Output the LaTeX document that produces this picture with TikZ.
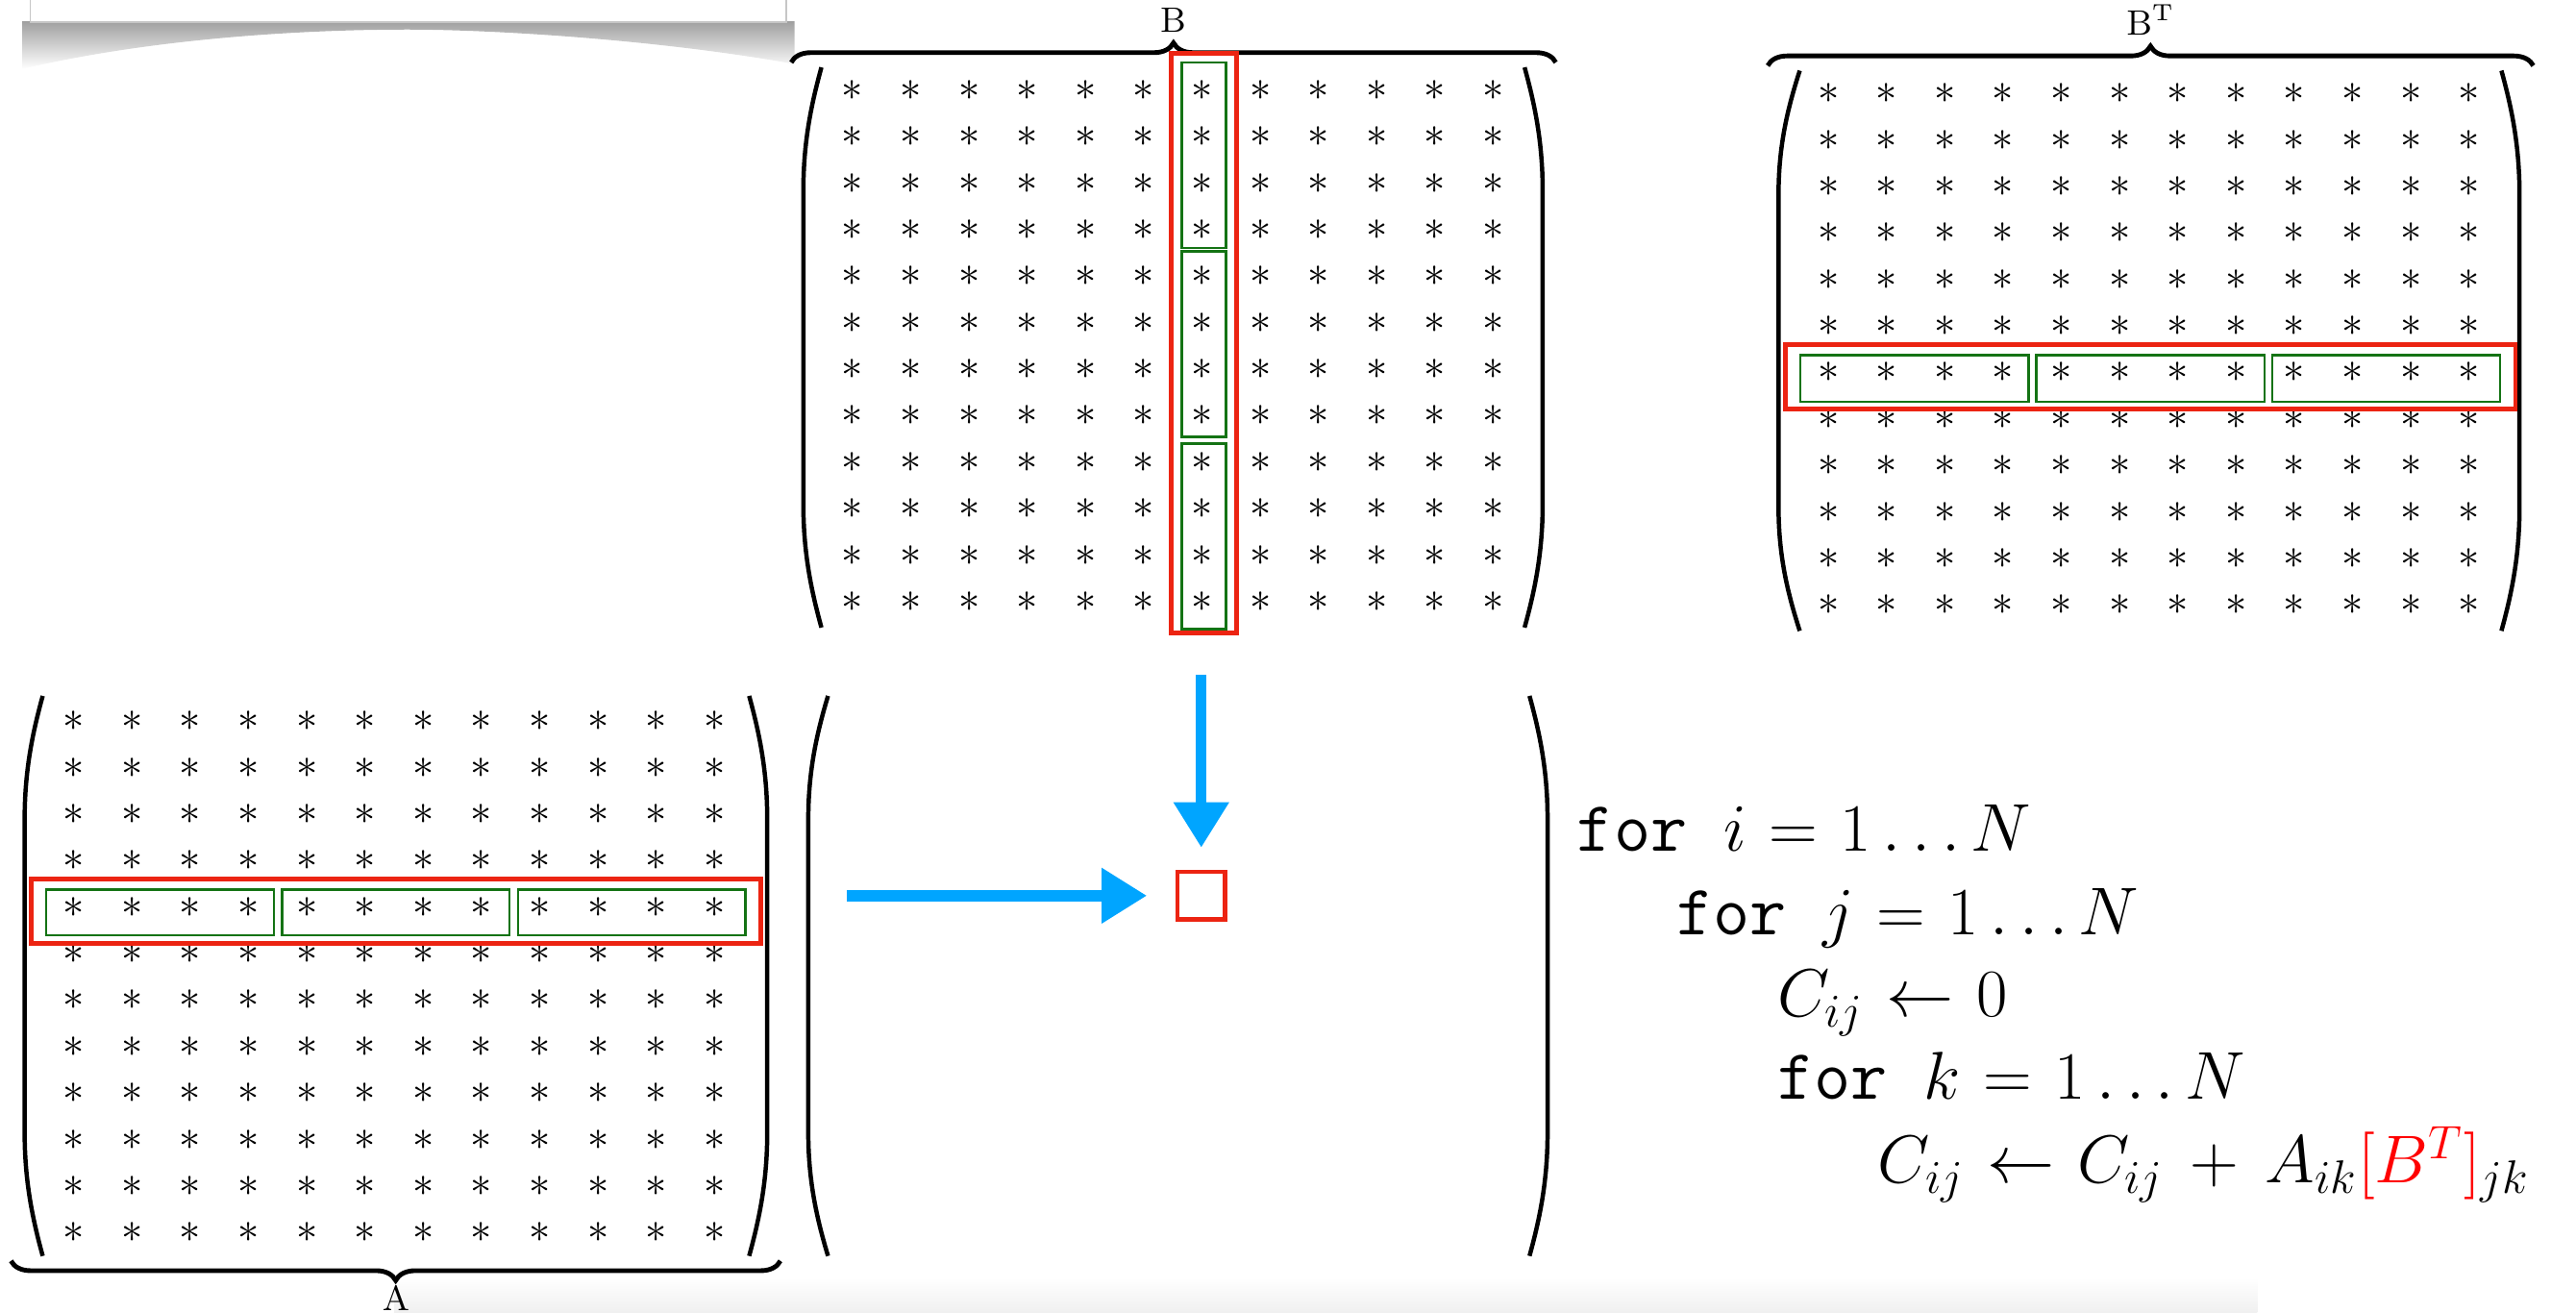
\documentclass[tikz,border=0pt]{standalone}
\usepackage{amsmath,amssymb}
\usepackage{tikz}
\usetikzlibrary{arrows.meta,positioning,decorations.pathreplacing,calc}

\definecolor{hlred}{RGB}{236,36,18}
\definecolor{hlgreen}{RGB}{20,115,20}
\definecolor{flowblue}{RGB}{0,165,255}
\def\pxu{0.42pt}
\newcommand\algsize{\fontsize{18.2}{21}\selectfont\thickmuskip=6mu\relax\medmuskip=7mu\relax}

\begin{document}
\begin{tikzpicture}[
    x=0.42pt, y=-0.42pt,
    star/.style={inner sep=0pt, font=\fontsize{10.5}{12}\selectfont},
    redbox/.style={draw=hlred, line width=1.2pt, inner sep=0pt},
    greenbox/.style={draw=hlgreen, line width=0.6pt, inner sep=0pt},
    paren/.style={line width=1.1pt},
    brace/.style={decorate, decoration={brace, amplitude=5pt}, line width=1.2pt},
    lbl/.style={font=\small, inner sep=0pt, anchor=base},
    alg/.style={anchor=base west, inner sep=0pt, font=\algsize},
    flow/.style={draw=flowblue, line width=2.8pt, -{Triangle[length=11.6pt,width=13.5pt]}}
]
\useasboundingbox (0,0) rectangle (1568,799);

% page shadows
\shade[top color=white, bottom color=gray!12] (240,778) rectangle (1374,799);
\shade[top color=gray!75, bottom color=white] (13.5,13) -- (483.7,13) -- (483.7,39)
    .. controls (400,24) and (300,18) .. (248,18) .. controls (180,18) and (90,24) .. (13.5,42) -- cycle;
\draw[gray!45, fill=white] (18.5,-10) rectangle (478.6,13.3);

% the three matrices of stars
\foreach \r in {0,...,11}
  \foreach \c in {0,...,11} {
    \node[star] (a-\r-\c) at ({45+35.45*\c},{439+28.3*\r}) {$*$};
    \node[star] (b-\r-\c) at ({519+35.45*\c},{55+28.3*\r}) {$*$};
    \node[star] (bt-\r-\c) at ({1113+35.45*\c},{57+28.3*\r}) {$*$};
  }

% parentheses
\foreach \xa/\xb/\ya/\yb in {26/15/423.6/764.5, 456/467/423.6/764.5, 504/492/423.6/764.5, 931/942/423.6/764.5,
                             500/489/41/382, 928/939/41/382, 1095.5/1082.6/43/384, 1522.6/1533.6/43/384}
  \draw[paren] (\xa,\ya) .. controls ({\xb+0.45*(\xa-\xb)},{\ya+22}) and (\xb,{\ya+45}) .. (\xb,{\ya+75})
     -- (\xb,{\yb-75}) .. controls (\xb,{\yb-45}) and ({\xb+0.45*(\xa-\xb)},{\yb-22}) .. (\xa,\yb);

% braces and names
\draw[brace] (481.6,38) -- (947,38);
\draw[brace] (1076,40) -- (1542,40);
\draw[brace] (475,767.5) -- (6.7,767.5);
\node[lbl] (blbl) at (714,19.5) {$\mathrm{B}$};
\node[lbl] (btlbl) at (1309,21.5) {$\mathrm{B}^{\mathrm{T}}$};
\node[lbl] (albl) at (241,797.5) {$\mathrm{A}$};

% highlighted row of A
\node[redbox, minimum width=444*\pxu, minimum height=39*\pxu] (arow) at (241,554.5) {};
\foreach \gx [count=\i] in {97.4,241,384.6}
  \node[greenbox, minimum width=138.4*\pxu, minimum height=28*\pxu] (ag\i) at (\gx,555.4) {};

% highlighted column of B
\node[redbox, minimum width=40.1*\pxu, minimum height=352.9*\pxu] (bcol) at (732.8,208.7) {};
\foreach \gy [count=\i] in {94.5,209.5,326.5}
  \node[greenbox, minimum width=26.9*\pxu, minimum height=113*\pxu] (bg\i) at (732.85,\gy) {};

% highlighted row of B^T
\node[redbox, minimum width=444.2*\pxu, minimum height=39.4*\pxu] (btrow) at (1309,229.5) {};
\foreach \gx [count=\i] in {1165.35,1308.95,1452.4}
  \node[greenbox, minimum width=138.8*\pxu, minimum height=28.3*\pxu] (btg\i) at (\gx,230.3) {};

% result entry and flow
\node[redbox, minimum width=29*\pxu, minimum height=29*\pxu] (cell) at (731.2,545.2) {};
\coordinate (dstart) at (731.2,411);
\coordinate (rstart) at (515.6,545.2);
\draw[flow, shorten >=5.6pt] (dstart) -- (cell);
\draw[flow, shorten >=7.2pt] (rstart) -- (cell);

% loop nest
\node[alg] (loopi) at (959.6,518) {\texttt{for~}$i=1\ldots N$};
\node[alg] (loopj) at (1020,569) {\texttt{for~}$j=1\ldots N$};
\node[alg] (init) at (1081.4,619) {$C_{ij}\leftarrow 0$};
\node[alg] (loopk) at (1081.4,669) {\texttt{for~}$k=1\ldots N$};
\node[alg] (update) at (1142.6,720) {$C_{ij}\leftarrow C_{ij}+A_{ik}{\color{red}[B^T]}_{jk}$};

\end{tikzpicture}
\end{document}
